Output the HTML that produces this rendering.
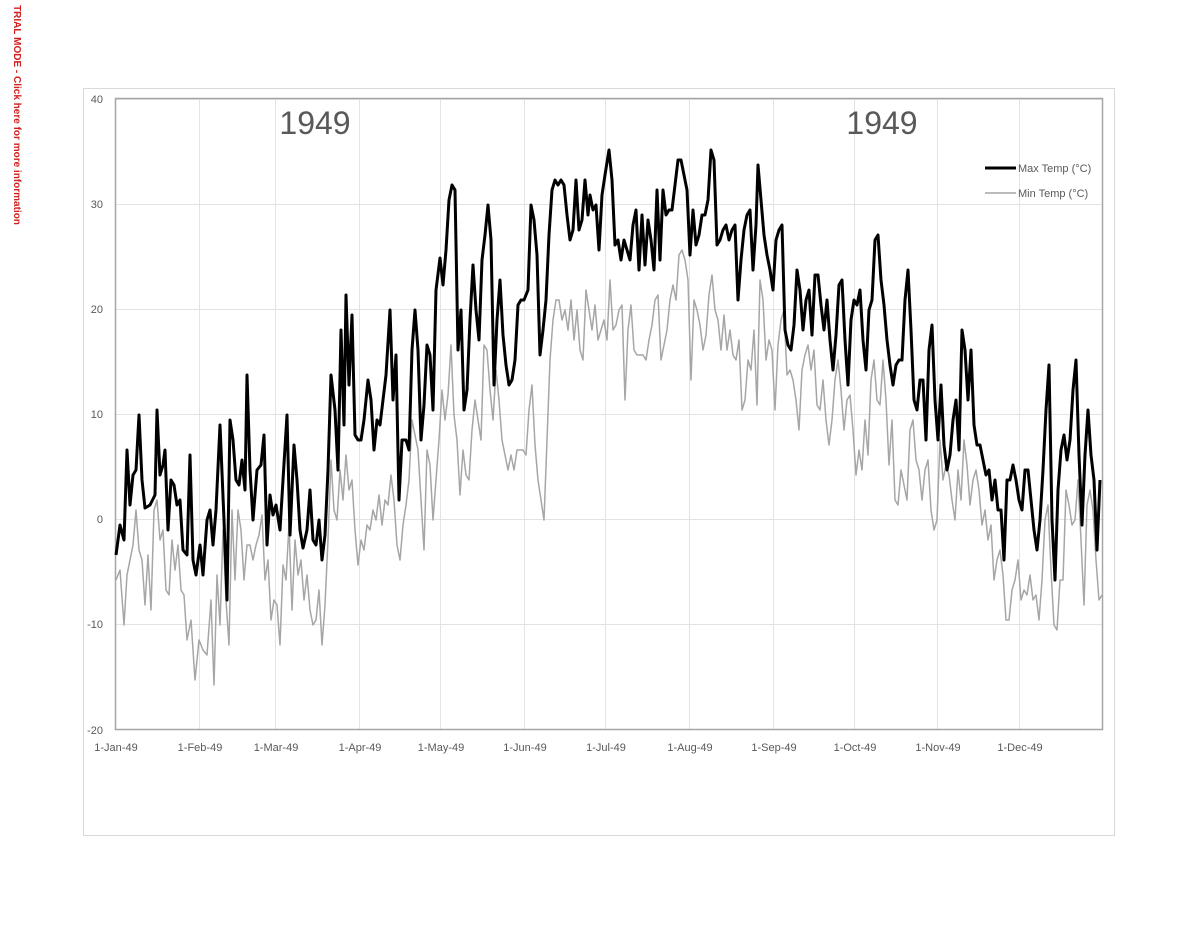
<!DOCTYPE html>
<html><head><meta charset="utf-8"><style>body{margin:0;background:#fff}svg{display:block}</style></head><body>
<svg width="1200" height="927" xmlns="http://www.w3.org/2000/svg" font-family="Liberation Sans, sans-serif">
<rect x="0" y="0" width="1200" height="927" fill="#fff"/>
<text transform="translate(14,115) rotate(90)" font-size="10" fill="#d02020" text-anchor="middle" font-weight="bold">TRIAL MODE - Click here for more information</text>
<rect x="83.5" y="88.5" width="1031" height="747" fill="#fff" stroke="#d9d9d9"/>
<g stroke="#e3e3e3" stroke-width="1">
<line x1="116" y1="99.5" x2="1102" y2="99.5"/><line x1="116" y1="204.5" x2="1102" y2="204.5"/><line x1="116" y1="309.5" x2="1102" y2="309.5"/><line x1="116" y1="414.5" x2="1102" y2="414.5"/><line x1="116" y1="519.5" x2="1102" y2="519.5"/><line x1="116" y1="624.5" x2="1102" y2="624.5"/>
<line x1="199.5" y1="99" x2="199.5" y2="730"/><line x1="275.5" y1="99" x2="275.5" y2="730"/><line x1="359.5" y1="99" x2="359.5" y2="730"/><line x1="440.5" y1="99" x2="440.5" y2="730"/><line x1="524.5" y1="99" x2="524.5" y2="730"/><line x1="605.5" y1="99" x2="605.5" y2="730"/><line x1="689.5" y1="99" x2="689.5" y2="730"/><line x1="773.5" y1="99" x2="773.5" y2="730"/><line x1="854.5" y1="99" x2="854.5" y2="730"/><line x1="937.5" y1="99" x2="937.5" y2="730"/><line x1="1019.5" y1="99" x2="1019.5" y2="730"/>
</g>
<g stroke="#a6a6a6" stroke-width="1.5" fill="none"><rect x="115.5" y="98.5" width="987" height="631"/></g>
<g font-size="11" fill="#595959" text-anchor="end">
<text x="103" y="103">40</text><text x="103" y="208">30</text><text x="103" y="313">20</text><text x="103" y="418">10</text><text x="103" y="523">0</text><text x="103" y="628">-10</text><text x="103" y="734">-20</text>
</g>
<g font-size="11" fill="#595959" text-anchor="middle">
<text x="116" y="751">1-Jan-49</text><text x="200" y="751">1-Feb-49</text><text x="276" y="751">1-Mar-49</text><text x="360" y="751">1-Apr-49</text><text x="441" y="751">1-May-49</text><text x="525" y="751">1-Jun-49</text><text x="606" y="751">1-Jul-49</text><text x="690" y="751">1-Aug-49</text><text x="774" y="751">1-Sep-49</text><text x="855" y="751">1-Oct-49</text><text x="938" y="751">1-Nov-49</text><text x="1020" y="751">1-Dec-49</text>
</g>
<text x="315" y="134" font-size="32" fill="#595959" text-anchor="middle">1949</text>
<text x="882" y="134" font-size="32" fill="#595959" text-anchor="middle">1949</text>
<polyline fill="none" stroke="#a6a6a6" stroke-width="1.5" stroke-linejoin="round" points="116,580 120,570 124,625 127,575 133,545 136,510 139,550 142,560 145,605 148,555 151,610 154,510 157,500 160,540 163,530 166,590 169,595 172,540 175,570 178,545 181,590 184,595 187,640 191,620 195,680 199,640 203,650 207,655 211,600 214,685 217,575 220,625 223,530 226,600 229,645 232,510 235,580 238,510 241,530 244,580 247,545 250,545 253,560 256,545 259,535 262,515 265,580 268,560 271,620 274,600 277,605 280,645 283,565 286,580 289,525 292,610 295,540 298,575 301,560 304,600 307,575 310,610 313,625 316,620 319,590 322,645 325,605 328,540 331,460 334,510 337,520 340,470 343,500 346,455 349,490 352,480 355,530 358,565 361,540 364,550 367,525 370,530 373,510 376,520 379,495 382,525 385,500 388,505 391,475 394,500 397,545 400,560 403,525 406,505 409,480 412,420 415,435 418,450 421,500 424,550 427,450 430,465 433,520 436,480 439,440 442,390 445,420 448,395 451,345 454,415 457,440 460,495 463,450 466,475 469,480 472,430 475,400 478,420 481,440 484,345 487,350 490,390 493,420 496,370 499,400 502,440 505,455 508,470 511,455 514,470 517,450 520,450 523,450 526,455 529,410 532,385 535,445 538,480 541,500 544,520 547,440 550,360 553,320 556,300 559,300 562,320 565,310 568,330 571,300 574,340 577,310 580,350 583,360 586,290 589,310 592,330 595,305 598,340 601,330 604,320 607,340 610,280 613,330 616,325 619,310 622,305 625,400 628,330 631,305 634,350 637,355 640,355 643,355 646,360 649,340 652,325 655,300 658,295 661,360 664,345 667,330 670,300 673,285 676,300 679,255 682,250 685,260 688,280 691,380 694,300 697,310 700,325 703,350 706,335 709,295 712,275 715,310 718,320 721,350 724,315 727,350 730,330 733,355 736,360 739,340 742,410 745,400 748,360 751,370 754,330 757,405 760,280 763,300 766,360 769,340 772,350 775,410 778,345 781,320 784,310 787,375 790,370 793,380 796,400 799,430 802,370 805,355 808,345 811,370 814,350 817,405 820,410 823,380 826,420 829,445 832,420 835,380 838,360 841,390 844,430 847,400 850,395 853,430 856,475 859,450 862,470 865,420 868,455 871,380 874,360 877,400 880,405 883,360 886,400 889,465 892,420 895,500 898,505 901,470 904,485 907,500 910,430 913,420 916,460 919,470 922,500 925,470 928,460 931,510 934,530 937,520 940,440 943,480 946,465 949,475 952,500 955,520 958,470 961,500 964,440 967,465 970,505 973,480 976,470 979,490 982,525 985,510 988,540 991,525 994,580 997,560 1000,550 1003,575 1006,620 1009,620 1012,590 1015,580 1018,560 1021,600 1024,590 1027,595 1030,575 1033,600 1036,595 1039,620 1042,580 1045,520 1048,505 1051,570 1054,625 1057,630 1060,580 1063,580 1066,490 1069,505 1072,525 1075,520 1078,480 1081,540 1084,605 1087,505 1090,490 1093,510 1096,560 1099,600 1102,595"/>
<polyline fill="none" stroke="#000" stroke-width="3" stroke-linejoin="round" points="116,555 120,525 124,540 127,450 130,505 133,475 136,470 139,415 142,480 145,508 150,505 155,495 157,410 160,475 163,465 165,450 168,530 171,480 174,485 177,505 180,500 183,550 187,555 190,455 193,560 196,575 200,545 203,575 207,520 210,510 213,545 216,510 220,425 224,520 227,600 230,420 233,440 236,480 239,485 242,460 245,490 247,375 250,470 253,520 257,470 261,465 264,435 267,545 270,495 273,515 276,505 280,530 283,480 287,415 290,535 294,445 297,480 300,530 303,548 307,530 310,490 313,540 316,545 319,520 322,560 325,535 328,470 331,375 335,410 338,470 341,330 344,425 346,295 349,385 352,315 355,435 358,440 361,440 364,420 368,380 371,400 374,450 377,420 380,425 383,400 386,375 390,310 393,400 396,355 399,500 402,440 406,440 409,450 412,350 415,310 418,350 421,440 424,405 427,345 430,355 433,410 436,290 440,258 443,285 446,250 449,200 452,185 455,190 458,350 461,310 464,410 467,390 470,320 473,265 476,310 479,340 482,260 485,235 488,205 491,240 494,385 497,320 500,280 503,335 506,365 509,385 512,380 515,360 518,305 521,300 524,300 528,290 531,205 534,220 537,255 540,355 543,330 546,300 549,235 552,190 555,180 558,185 561,180 564,185 567,215 570,240 573,230 576,180 579,230 582,220 585,180 588,215 590,195 593,210 596,205 599,250 602,195 605,175 609,150 612,180 615,245 618,240 621,260 624,240 627,250 630,260 633,225 636,210 639,270 642,215 645,265 648,220 651,240 654,270 657,190 660,260 663,190 666,215 669,210 672,210 675,185 678,160 681,160 684,175 687,190 690,255 693,210 696,245 699,235 702,215 705,215 708,200 711,150 714,160 717,245 720,240 723,230 726,225 729,240 732,230 735,225 738,300 741,260 744,230 747,215 750,210 753,270 756,225 758,165 761,200 764,235 767,255 770,270 773,290 776,240 779,230 782,225 785,330 788,345 791,350 794,325 797,270 800,290 803,330 806,300 809,290 812,335 815,275 818,275 821,305 824,330 827,300 830,340 833,370 836,335 839,285 842,280 845,340 848,385 851,320 854,300 857,305 860,290 863,340 866,370 869,310 872,300 875,240 878,235 881,280 884,305 887,340 890,365 893,385 896,365 899,360 902,360 905,300 908,270 911,330 914,400 917,410 920,380 923,380 926,440 929,350 932,325 935,400 938,440 941,385 944,445 947,470 950,455 953,420 956,400 959,450 962,330 965,350 968,400 971,350 974,425 977,445 980,445 983,460 986,475 989,470 992,500 995,480 998,510 1001,510 1004,560 1007,480 1010,480 1013,465 1016,480 1019,500 1022,510 1025,470 1028,470 1031,500 1034,530 1037,550 1040,520 1043,470 1046,410 1049,365 1052,520 1055,580 1058,490 1061,450 1064,435 1067,460 1070,440 1073,390 1076,360 1079,455 1082,525 1085,455 1088,410 1091,455 1094,480 1097,550 1100,480"/>
<line x1="985" y1="168" x2="1016" y2="168" stroke="#000" stroke-width="3"/>
<line x1="985" y1="193" x2="1016" y2="193" stroke="#a6a6a6" stroke-width="1.5"/>
<g font-size="11" fill="#595959"><text x="1018" y="172">Max Temp (°C)</text><text x="1018" y="197">Min Temp (°C)</text></g>
</svg>
</body></html>
